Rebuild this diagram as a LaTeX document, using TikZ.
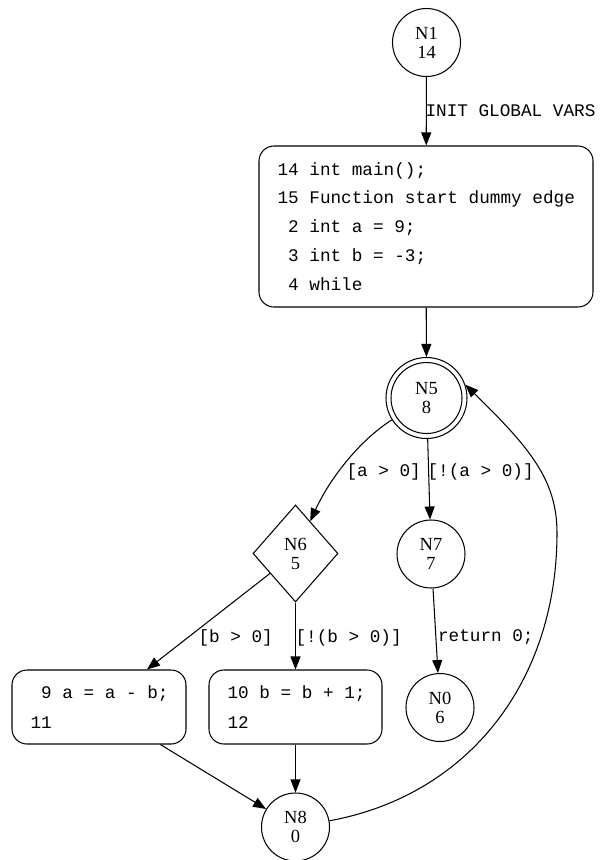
\documentclass[tikz,border=0pt]{standalone}
\usepackage{fontspec}
\setmainfont{Liberation Serif}
\newfontfamily\codefont{Liberation Mono}
\usetikzlibrary{arrows.meta,shapes.geometric}

\begin{document}
\begin{tikzpicture}[x=1pt,y=-1pt,line width=1.05pt,
  state/.style={circle,draw,minimum size=68pt,inner sep=0pt,align=center,
    font=\fontsize{18.5}{19}\selectfont},
  junction/.style={state,minimum size=81pt},
  decision/.style={diamond,draw,minimum width=85pt,minimum height=97pt,inner sep=0pt,
    align=center,font=\fontsize{18.5}{19}\selectfont},
  codebox/.style={draw,rounded corners=15pt,inner sep=0pt},
  code/.style={anchor=base west,inner sep=0pt,font=\fontsize{17.7}{21}\codefont},
  flow/.style={-{Triangle[length=13pt,width=10pt]}},
]
\useasboundingbox (0,0) rectangle (600,860);

% nodes
\node[state] (N1) at (426.5,42.5) {N1\\14};
\node[codebox,minimum width=334pt,minimum height=161pt] (B1) at (426,226.5) {};
\node[code] (b1a) at (277,175.0) {14 int main();};
\node[code] (b1b) at (277,203.9) {15 Function start dummy edge};
\node[code] (b1c) at (277,232.8) {\hphantom{0}2 int a = 9;};
\node[code] (b1d) at (277,261.7) {\hphantom{0}3 int b = -3;};
\node[code] (b1e) at (277,290.6) {\hphantom{0}4 while};

\node[junction] (N5) at (426.5,398) {N5\\8};
\draw (N5.center) circle[radius=35.5pt];

\node[decision] (N6) at (295.5,553.5) {N6\\5};
\node[state] (N7) at (431,554) {N7\\7};
\node[state] (N0) at (440,707.5) {N0\\6};

\node[codebox,minimum width=174pt,minimum height=74pt] (B9) at (99,707) {};
\node[code] (b9a) at (30,698) {\hphantom{0}9 a = a - b;};
\node[code] (b9b) at (30,728) {11};

\node[codebox,minimum width=173pt,minimum height=74pt] (B10) at (295.5,707) {};
\node[code] (b10a) at (227,698) {10 b = b + 1;};
\node[code] (b10b) at (227,728) {12};

\node[state] (N8) at (295.5,827) {N8\\0};

% edge labels
\node[code] (l1) at (425,116) {INIT GLOBAL VARS};
\node[code] (l2) at (346,476.5) {[a > 0]};
\node[code] (l3) at (427,476.5) {[!(a > 0)]};
\node[code] (l4) at (198,642) {[b > 0]};
\node[code] (l5) at (295,642) {[!(b > 0)]};
\node[code] (l6) at (437.5,641) {return 0;};

% connectors
\draw[flow] (N1) -- (B1);
\draw[flow] (B1) -- (N5);
\draw[flow] (N5) .. controls (360,440) and (330,478) .. (N6);
\draw[flow] (N5) -- (N7);
\draw[flow] (N6) -- (B9);
\draw[flow] (N6) -- (B10);
\draw[flow] (N7) -- (N0);
\draw[flow] (B9) -- (N8);
\draw[flow] (B10) -- (N8);
\coordinate (loop) at (557,533);
\draw[flow] (N8) .. controls (470,795) and (557,680) .. (loop)
  .. controls (557,480) and (530,448) .. (N5.19);
\end{tikzpicture}
\end{document}
